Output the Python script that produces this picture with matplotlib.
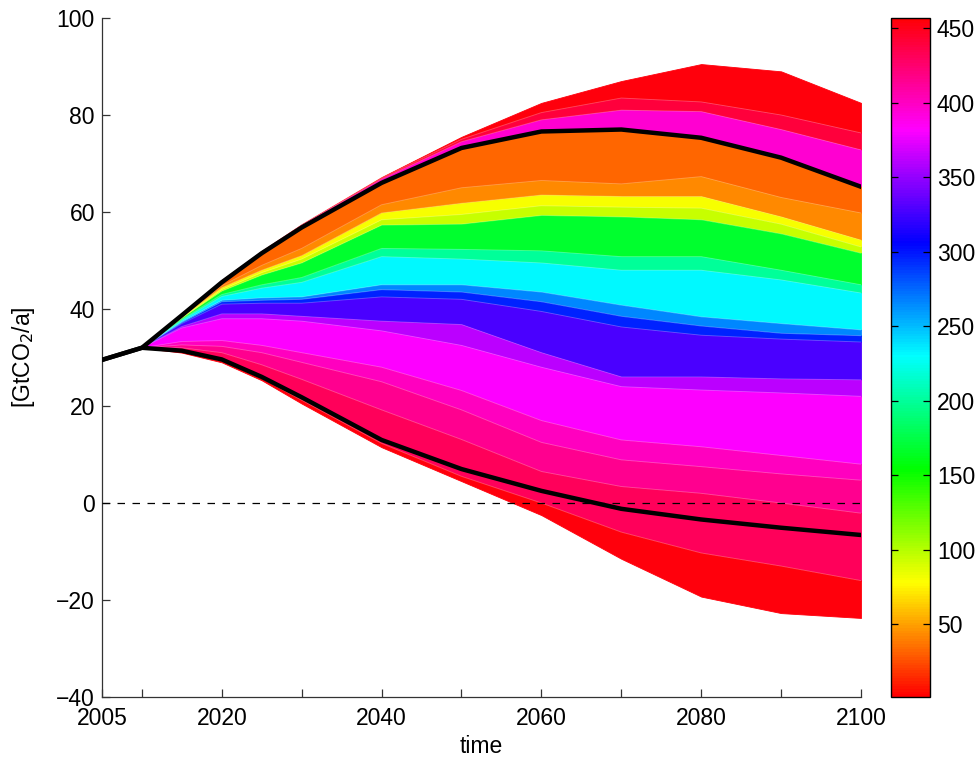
import numpy as np
import matplotlib
matplotlib.use("Agg")
import matplotlib.pyplot as plt
from matplotlib.colors import ListedColormap, Normalize, hsv_to_rgb
from matplotlib.cm import ScalarMappable

plt.rcParams['font.family'] = ['Liberation Sans', 'DejaVu Sans']

# ---------------- data ----------------
YEARS = [2010, 2015, 2020, 2025, 2030, 2040, 2050, 2060, 2070, 2080, 2090, 2100]

top_envelope      = [32, 38.9, 46.0, 52.0, 57.5, 67.2, 75.5, 82.5, 87.0, 90.5, 89.0, 82.5]
upper_red_edge    = [32, 38.85, 45.9, 51.9, 57.4, 67.0, 75.0, 80.5, 83.5, 82.7, 80.0, 76.3]
upper_pink_edge   = [32, 38.8, 45.8, 51.8, 57.3, 66.8, 74.5, 79.0, 81.0, 80.7, 77.0, 72.8]
upper_black       = [32, 38.7, 45.5, 51.5, 56.8, 66.0, 73.2, 76.6, 77.0, 75.3, 71.2, 65.2]
orange_dark_edge  = [32, 38.45, 44.8, 49.0, 52.5, 61.5, 65.0, 66.5, 65.8, 67.3, 63.0, 59.8]
orange_light_edge = [32, 38.35, 44.4, 48.0, 51.0, 59.8, 61.8, 63.5, 63.2, 63.2, 59.0, 54.2]
yellow_edge       = [32, 38.2, 44.0, 47.5, 50.3, 58.4, 59.5, 61.3, 61.0, 60.8, 57.5, 52.8]
yellowgreen_edge  = [32, 38.1, 43.7, 47.0, 49.5, 57.3, 57.5, 59.3, 59.0, 58.4, 55.5, 51.5]
green_edge        = [32, 37.9, 43.0, 45.0, 46.5, 52.5, 52.3, 52.0, 50.8, 50.8, 48.0, 45.0]
greencyan_edge    = [32, 37.7, 42.6, 44.3, 45.5, 50.8, 50.3, 49.5, 48.0, 48.0, 46.0, 43.3]
cyan_edge         = [32, 37.4, 41.8, 42.3, 42.5, 45.0, 45.0, 43.5, 40.8, 38.4, 37.0, 35.7]
lightblue_edge    = [32, 37.2, 41.5, 41.8, 42.0, 44.0, 43.5, 41.5, 38.5, 36.5, 35.0, 34.5]
blue_edge         = [32, 37.0, 41.0, 41.2, 41.2, 42.5, 42.0, 39.5, 36.3, 34.6, 33.8, 33.2]
violet_edge       = [32, 36.4, 39.0, 39.0, 38.5, 37.5, 36.8, 31.0, 26.0, 26.0, 25.6, 25.4]
purple_edge       = [32, 36.1, 38.0, 38.0, 37.5, 35.5, 32.5, 28.0, 24.0, 23.3, 22.7, 22.0]
magenta_edge      = [32, 33.3, 33.5, 32.5, 31.0, 28.0, 23.2, 17.0, 13.0, 11.6, 9.8, 8.0]
magentapink_edge  = [32, 32.6, 32.3, 31.0, 29.0, 25.0, 19.2, 12.5, 8.9, 7.5, 6.0, 4.7]
pink_edge         = [32, 32.0, 31.0, 28.5, 25.5, 19.2, 13.1, 6.5, 3.4, 2.0, 0.0, -2.1]
lower_black       = [32, 31.4, 29.6, 26.0, 21.8, 13.0, 7.0, 2.5, -1.2, -3.4, -5.1, -6.6]
lower_red_edge    = [32, 31.2, 29.3, 25.7, 21.2, 12.3, 5.5, 0.0, -6.0, -10.3, -13.0, -16.0]
bottom_envelope   = [32, 31.0, 29.0, 25.3, 20.5, 11.5, 4.5, -2.5, -11.5, -19.3, -22.7, -23.7]

START_YEAR = 2005
START_VALUE = 29.5

# colour value (colorbar units) of each band, top to bottom
band_values = [455, 440, 395, 33, 43, 80, 95, 168, 200, 232, 265, 295, 328, 362,
               381, 400, 415, 432, 455]

boundaries = [top_envelope, upper_red_edge, upper_pink_edge, upper_black,
              orange_dark_edge, orange_light_edge, yellow_edge, yellowgreen_edge,
              green_edge, greencyan_edge, cyan_edge, lightblue_edge, blue_edge,
              violet_edge, purple_edge, magenta_edge, magentapink_edge, pink_edge,
              lower_red_edge, bottom_envelope]

CBAR_MIN, CBAR_MAX = 1, 457
cbar_ticks = [50, 100, 150, 200, 250, 300, 350, 400, 450]
x_ticks = [2005, 2010, 2020, 2030, 2040, 2050, 2060, 2070, 2080, 2090, 2100]
x_ticklabels = ['2005', '', '2020', '', '2040', '', '2060', '', '2080', '', '2100']
y_ticks = [-40, -20, 0, 20, 40, 60, 80, 100]

# ---------------- colormap (MATLAB-like hsv) ----------------
h = np.linspace(0, 1, 256, endpoint=False)
cmap = ListedColormap(hsv_to_rgb(np.stack([h, np.ones_like(h), np.ones_like(h)], axis=-1)))
norm = Normalize(CBAR_MIN, CBAR_MAX)

# ---------------- figure ----------------
fig = plt.figure(figsize=(9.8, 7.62), dpi=100)
ax = fig.add_axes([0.104, 0.0853, 0.7746, 0.8911])
cax = fig.add_axes([0.909, 0.0853, 0.0398, 0.8911])

yrs = np.array(YEARS)
for i, val in enumerate(band_values):
    upper = np.array(boundaries[i])
    lower = np.array(boundaries[i + 1])
    col = cmap(norm(val))
    ax.fill_between(yrs, lower, upper, color=col, linewidth=0.6, edgecolor=col, zorder=1)

# faint light streaks at band edges
for b in boundaries[1:-1]:
    ax.plot(yrs, b, color='white', alpha=0.28, linewidth=0.6, zorder=2)

ax.axhline(0, color='black', linestyle=(0, (6, 6)), linewidth=0.9, zorder=3)

for line in (upper_black, lower_black):
    ax.plot([START_YEAR] + YEARS, [START_VALUE] + line, color='black', linewidth=3.2,
            solid_joinstyle='round', zorder=4)

ax.set_xlim(2005, 2100)
ax.set_ylim(-40, 100)
ax.set_xticks(x_ticks)
ax.set_xticklabels(x_ticklabels)
ax.set_yticks(y_ticks)
for s in ('top', 'right'):
    ax.spines[s].set_visible(False)
for s in ('left', 'bottom'):
    ax.spines[s].set_color('#333333')
    ax.spines[s].set_linewidth(0.9)
ax.tick_params(direction='in', length=6, width=0.9, color='#333333',
               labelsize=16.5)
ax.tick_params(axis='x', pad=7)
ax.tick_params(axis='y', pad=5)
ax.set_xlabel('time', fontsize=16.5, labelpad=4)
ax.set_ylabel('[GtCO$_2$/a]', fontsize=16.5, labelpad=14)

sm = ScalarMappable(norm=norm, cmap=cmap)
cb = fig.colorbar(sm, cax=cax, ticks=cbar_ticks)
cb.outline.set_linewidth(1.0)
cax.tick_params(direction='in', length=5, width=0.9, left=True, right=True,
                labelsize=16.5, pad=5)

fig.savefig('out.png', dpi=100)
